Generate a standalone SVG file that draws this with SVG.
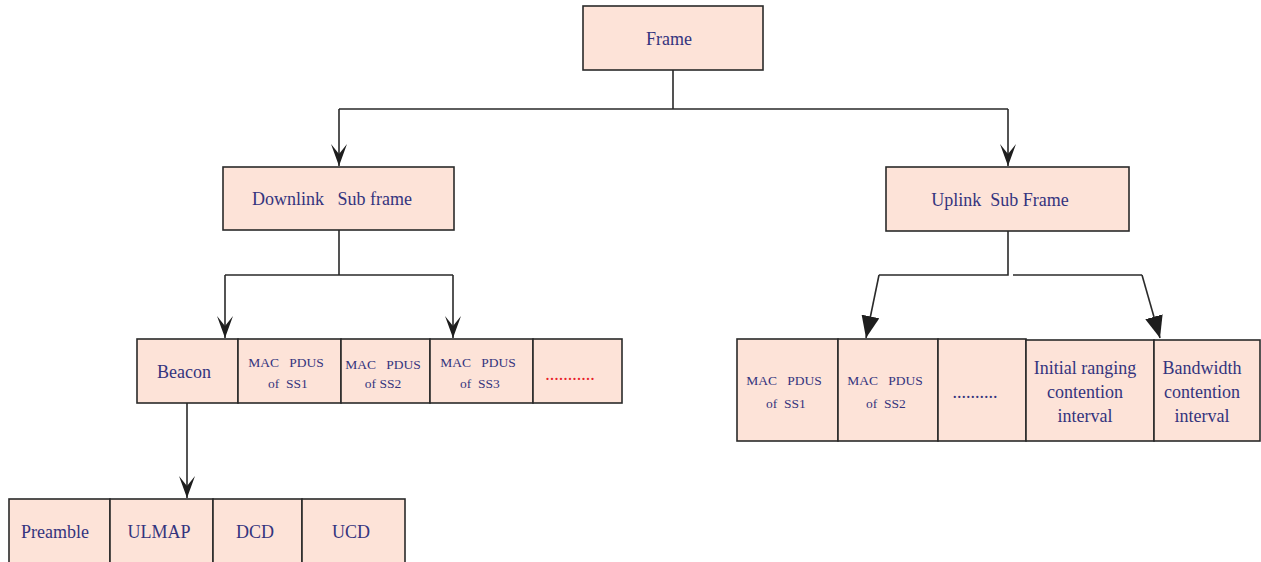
<svg xmlns="http://www.w3.org/2000/svg" width="1261" height="562" viewBox="0 0 1261 562">
  <style>
    .box { fill: #fde3d8; stroke: #2a2a2a; stroke-width: 1.6; }
    .lbl { font-family: "Liberation Serif", serif; fill: #34347e; text-anchor: middle; white-space: pre; }
    .big { font-size: 18px; }
    .sm { font-size: 13.5px; }
    .wire { fill: none; stroke: #2a2a2a; stroke-width: 1.6; }
  </style>
  <defs>
    <!-- barbed arrowhead for orthogonal connectors -->
    <marker id="barb" markerUnits="userSpaceOnUse" markerWidth="24" markerHeight="16" refX="22" refY="8" orient="auto" viewBox="0 0 24 16">
      <path d="M0,0 L22,8 L0,16 L10,8 Z" fill="#1e1e1e"/>
    </marker>
    <!-- solid triangle for slanted connectors -->
    <marker id="tri" markerUnits="userSpaceOnUse" markerWidth="22" markerHeight="18" refX="22" refY="9" orient="auto" viewBox="0 0 22 18">
      <path d="M0,0 L22,9 L0,18 Z" fill="#1e1e1e"/>
    </marker>
  </defs>

  <g id="connectors">
    <path class="wire" d="M673,70 V109 M339,109 H1008"/>
    <path class="wire" d="M339,109 V166" marker-end="url(#barb)"/>
    <path class="wire" d="M1008,109 V166" marker-end="url(#barb)"/>

    <path class="wire" d="M339,230 V275 M225,275 H453"/>
    <path class="wire" d="M225,275 V338" marker-end="url(#barb)"/>
    <path class="wire" d="M453,275 V338" marker-end="url(#barb)"/>

    <path class="wire" d="M187,403 V498" marker-end="url(#barb)"/>

    <path class="wire" d="M1008,231 V275 H879"/>
    <path class="wire" d="M879,275 L866,338" marker-end="url(#tri)"/>
    <path class="wire" d="M1013,275 H1142"/>
    <path class="wire" d="M1142,275 L1160,338" marker-end="url(#tri)"/>
  </g>

  <g id="frame">
    <rect class="box" x="583" y="6" width="180" height="64"/>
    <text class="lbl big" x="669" y="45">Frame</text>
  </g>

  <g id="downlink">
    <rect class="box" x="223" y="167" width="231" height="63"/>
    <text class="lbl big" x="332" y="205">Downlink   Sub frame</text>
  </g>

  <g id="uplink">
    <rect class="box" x="886" y="167" width="243" height="64"/>
    <text class="lbl big" x="1000" y="206">Uplink  Sub Frame</text>
  </g>

  <g id="dl-beacon">
    <rect class="box" x="137" y="339" width="101" height="64"/>
    <text class="lbl big" x="184" y="378">Beacon</text>
  </g>
  <g id="dl-ss1">
    <rect class="box" x="238" y="339" width="103" height="64"/>
    <text class="lbl sm" x="286" y="367">MAC   PDUS</text>
    <text class="lbl sm" x="288" y="388">of  SS1</text>
  </g>
  <g id="dl-ss2">
    <rect class="box" x="341" y="339" width="89" height="64"/>
    <text class="lbl sm" x="383" y="369">MAC   PDUS</text>
    <text class="lbl sm" x="383" y="388">of SS2</text>
  </g>
  <g id="dl-ss3">
    <rect class="box" x="430" y="339" width="103" height="64"/>
    <text class="lbl sm" x="478" y="367">MAC   PDUS</text>
    <text class="lbl sm" x="480" y="388">of  SS3</text>
  </g>
  <g id="dl-more">
    <rect class="box" x="533" y="339" width="89" height="64"/>
    <text class="lbl big" x="570" y="380" style="fill:#e8202a">...........</text>
  </g>

  <g id="bc-preamble">
    <rect class="box" x="9" y="499" width="101" height="70"/>
    <text class="lbl big" x="55" y="538">Preamble</text>
  </g>
  <g id="bc-ulmap">
    <rect class="box" x="110" y="499" width="103" height="70"/>
    <text class="lbl big" x="159" y="538">ULMAP</text>
  </g>
  <g id="bc-dcd">
    <rect class="box" x="213" y="499" width="89" height="70"/>
    <text class="lbl big" x="255" y="538">DCD</text>
  </g>
  <g id="bc-ucd">
    <rect class="box" x="302" y="499" width="103" height="70"/>
    <text class="lbl big" x="351" y="538">UCD</text>
  </g>

  <g id="ul-ss1">
    <rect class="box" x="737" y="339" width="101" height="102"/>
    <text class="lbl sm" x="784" y="385">MAC   PDUS</text>
    <text class="lbl sm" x="786" y="408">of  SS1</text>
  </g>
  <g id="ul-ss2">
    <rect class="box" x="838" y="339" width="100" height="102"/>
    <text class="lbl sm" x="885" y="385">MAC   PDUS</text>
    <text class="lbl sm" x="886" y="408">of  SS2</text>
  </g>
  <g id="ul-more">
    <rect class="box" x="938" y="339" width="88" height="102"/>
    <text class="lbl big" x="975" y="398">..........</text>
  </g>
  <g id="ul-initial">
    <rect class="box" x="1026" y="340" width="128" height="101"/>
    <text class="lbl big" x="1085" y="374">Initial ranging</text>
    <text class="lbl big" x="1085" y="398">contention</text>
    <text class="lbl big" x="1085" y="422">interval</text>
  </g>
  <g id="ul-bandwidth">
    <rect class="box" x="1154" y="340" width="106" height="101"/>
    <text class="lbl big" x="1202" y="374">Bandwidth</text>
    <text class="lbl big" x="1202" y="398">contention</text>
    <text class="lbl big" x="1202" y="422">interval</text>
  </g>
</svg>
